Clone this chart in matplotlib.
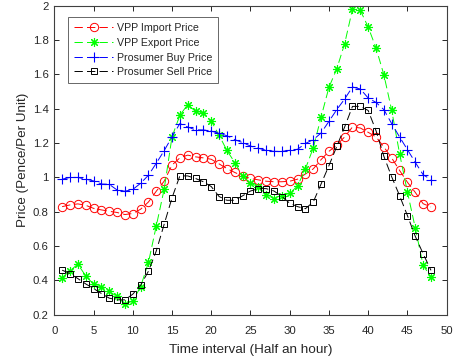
import matplotlib
matplotlib.use("Agg")
import matplotlib.pyplot as plt

plt.rcParams['font.family'] = ['Liberation Sans', 'DejaVu Sans']
plt.rcParams['lines.scale_dashes'] = False

intervals = list(range(1, 49))

vpp_import = [0.83, 0.84, 0.846, 0.838, 0.82, 0.811, 0.803, 0.796, 0.784, 0.79,
              0.815, 0.857, 0.92, 0.978, 1.072, 1.114, 1.13, 1.12, 1.114, 1.106,
              1.079, 1.052, 1.029, 1.009, 0.994, 0.986, 0.978, 0.975, 0.975, 0.978,
              0.99, 1.02, 1.05, 1.104, 1.152, 1.189, 1.236, 1.294, 1.288, 1.263,
              1.236, 1.178, 1.113, 1.041, 0.972, 0.913, 0.847, 0.828]

vpp_export = [0.417, 0.456, 0.495, 0.427, 0.378, 0.359, 0.336, 0.307, 0.262, 0.281,
              0.363, 0.505, 0.718, 0.931, 1.236, 1.362, 1.424, 1.385, 1.374, 1.329,
              1.246, 1.157, 1.087, 1.009, 0.966, 0.947, 0.9, 0.877, 0.893, 0.908,
              0.95, 1.05, 1.172, 1.352, 1.525, 1.633, 1.779, 1.98, 1.973, 1.876,
              1.754, 1.598, 1.39, 1.139, 0.916, 0.706, 0.488, 0.421]

prosumer_buy = [0.99, 1.0, 1.0, 0.99, 0.98, 0.962, 0.96, 0.927, 0.92, 0.93,
                0.966, 1.013, 1.083, 1.156, 1.236, 1.314, 1.294, 1.277, 1.277, 1.27,
                1.257, 1.243, 1.22, 1.203, 1.183, 1.17, 1.158, 1.152, 1.152, 1.158,
                1.164, 1.198, 1.22, 1.259, 1.327, 1.395, 1.457, 1.527, 1.515, 1.463,
                1.437, 1.395, 1.313, 1.236, 1.162, 1.088, 1.016, 0.987]

prosumer_sell = [0.46, 0.44, 0.411, 0.38, 0.353, 0.324, 0.297, 0.287, 0.287, 0.32,
                 0.372, 0.454, 0.572, 0.727, 0.881, 1.009, 1.009, 0.994, 0.975, 0.947,
                 0.889, 0.867, 0.867, 0.893, 0.921, 0.935, 0.935, 0.921, 0.889, 0.85,
                 0.83, 0.818, 0.857, 0.962, 1.069, 1.181, 1.294, 1.414, 1.414, 1.39,
                 1.272, 1.123, 1.003, 0.894, 0.778, 0.657, 0.556, 0.459]

x_ticks = [0, 5, 10, 15, 20, 25, 30, 35, 40, 45, 50]
y_ticks = [0.2, 0.4, 0.6, 0.8, 1.0, 1.2, 1.4, 1.6, 1.8, 2.0]
y_tick_labels = ['0.2', '0.4', '0.6', '0.8', '1', '1.2', '1.4', '1.6', '1.8', '2']

fig = plt.figure(figsize=(4.6, 3.61), dpi=100)
ax = fig.add_axes([0.118, 0.128, 0.853, 0.856])

dash = (6, 3)
lw = 0.7
ax.plot(intervals, vpp_import, color='#ff0000', linestyle='--', dashes=dash, lw=lw,
        marker='o', markersize=6, markerfacecolor='none', markeredgewidth=0.7,
        label='VPP Import Price')
ax.plot(intervals, vpp_export, color='#00ff00', linestyle='--', dashes=dash, lw=lw,
        marker=(8, 2, 0), markersize=6.5, markeredgewidth=0.8,
        label='VPP Export Price')
ax.plot(intervals, prosumer_buy, color='#0000ff', linestyle='--', dashes=dash, lw=lw,
        marker='+', markersize=7, markeredgewidth=0.8,
        label='Prosumer Buy Price')
ax.plot(intervals, prosumer_sell, color='#000000', linestyle='--', dashes=dash, lw=lw,
        marker='s', markersize=5, markerfacecolor='none', markeredgewidth=0.7,
        label='Prosumer Sell Price')

ax.set_xlim(0, 50)
ax.set_ylim(0.2, 2.0)
ax.set_xticks(x_ticks)
ax.set_yticks(y_ticks)
ax.set_yticklabels(y_tick_labels)

axis_grey = '#262626'
for side in ['top', 'right', 'bottom', 'left']:
    ax.spines[side].set_color('#404040')
    ax.spines[side].set_linewidth(0.8)
ax.tick_params(direction='in', top=True, right=True, length=3.5, width=0.7,
               colors=axis_grey, labelsize=8.2)
ax.tick_params(axis='x', pad=8)
ax.tick_params(axis='y', pad=4)

ax.set_xlabel('Time interval (Half an hour)', fontsize=9.7, color=axis_grey, labelpad=6)
ax.set_ylabel('Price (Pence/Per Unit)', fontsize=9.7, color=axis_grey, labelpad=3)

leg = ax.legend(loc='upper left', bbox_to_anchor=(0.036, 0.963), fontsize=7.7,
                handlelength=3.6, handletextpad=0.4, labelspacing=0.44,
                borderpad=0.55, frameon=True, fancybox=False, borderaxespad=0)
leg.get_frame().set_edgecolor('#404040')
leg.get_frame().set_linewidth(0.7)
for t in leg.get_texts():
    t.set_color(axis_grey)

fig.savefig('out.png', dpi=100)
